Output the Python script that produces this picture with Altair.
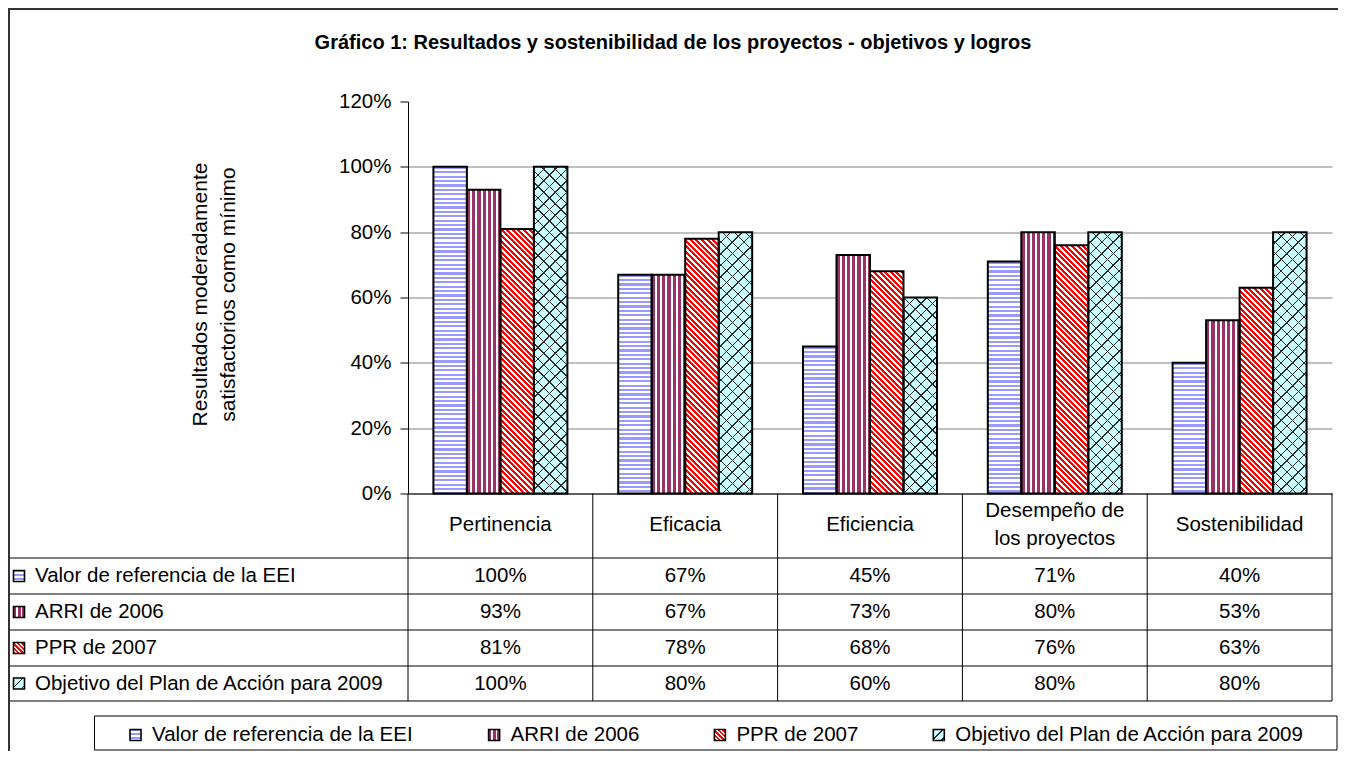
import altair as alt
import pandas as pd

# ---------------- data ----------------
categories = ["Pertinencia", "Eficacia", "Eficiencia", "Desempeño de los proyectos", "Sostenibilidad"]
series = ["Valor de referencia de la EEI", "ARRI de 2006", "PPR de 2007",
          "Objetivo del Plan de Acción para 2009"]
valor_eei = [1.00, 0.67, 0.45, 0.71, 0.40]
arri_2006 = [0.93, 0.67, 0.73, 0.80, 0.53]
ppr_2007 = [0.81, 0.78, 0.68, 0.76, 0.63]
objetivo_2009 = [1.00, 0.80, 0.60, 0.80, 0.80]
y_ticks = [0, 0.2, 0.4, 0.6, 0.8, 1.0, 1.2]
chart_title = "Gráfico 1: Resultados y sostenibilidad de los proyectos - objetivos y logros"
y_title = ["Resultados moderadamente", "satisfactorios como mínimo"]

values_by_series = [valor_eei, arri_2006, ppr_2007, objetivo_2009]
df = pd.DataFrame([{"cat": c, "series": s, "value": v}
                   for s, vals in zip(series, values_by_series)
                   for c, v in zip(categories, vals)])
dummy = pd.DataFrame({"k": [0]})

# ---------------- layout / style ----------------
FONT = "Liberation Sans"
FS = 20.5
W, H = 924, 392
X0, Y0 = 408, 101.5          # page position of plot origin
YMAX = 1.2
PAD_IN = 0.275
BAR_W = W / 5 * (1 - PAD_IN) / 4

BLUE, MAROON, RED, CYAN, DARK, WHITE = "#9999FF", "#993366", "#FF0000", "#CCFFFF", "#2b2b2b", "#FFFFFF"
CLEAR = "rgba(0,0,0,0)"


def px(x):
    return x - X0


def py(y):
    return y - Y0


def stripes(c1, c2, n, frac):
    stops = []
    k = 0
    while k < n:
        a = k / n
        b = min((k + frac) / n, 1.0)
        e = min((k + 1) / n, 1.0)
        stops += [(a, c1), (b, c1)]
        if b < 1.0:
            stops += [(b, c2), (e, c2)]
        k += 1
    return [alt.GradientStop(offset=round(o, 5), color=c) for o, c in stops]


def grad_h(c1, c2, n, frac):      # horizontal stripes
    return alt.LinearGradient(gradient="linear", x1=0, y1=0, x2=0, y2=1, stops=stripes(c1, c2, n, frac))


def grad_v(c1, c2, n, frac):      # vertical stripes
    return alt.LinearGradient(gradient="linear", x1=0, y1=0, x2=1, y2=0, stops=stripes(c1, c2, n, frac))


def grad_back(c1, c2, w, h, period, frac):   # "\" stripes
    a = (w + h) / (w * w + h * h)
    return alt.LinearGradient(gradient="linear", x1=0, y1=1, x2=a * w, y2=1 - a * h,
                              stops=stripes(c1, c2, (w + h) / period, frac))


def grad_fwd(c1, c2, w, h, period, frac):    # "/" stripes
    a = (w + h) / (w * w + h * h)
    return alt.LinearGradient(gradient="linear", x1=0, y1=0, x2=a * w, y2=a * h,
                              stops=stripes(c1, c2, (w + h) / period, frac))


TWO_LINE = "Desempeño de los proyectos"
x_axis = alt.Axis(title=None, labelAngle=0, labelFont=FONT, labelFontSize=FS, labelColor="black",
                  labelPadding={"condition": {"test": f"datum.value == '{TWO_LINE}'", "value": 17},
                                "value": 31},
                  labelBaseline="middle", labelLineHeight=28, ticks=False,
                  domainColor="black", domainWidth=1, grid=False, labelLimit=300,
                  labelExpr=f"datum.value == '{TWO_LINE}' ? ['Desempeño de', 'los proyectos'] : datum.value")
y_axis = alt.Axis(values=y_ticks, format=".0%", title=y_title, titleFont=FONT, titleFontSize=21,
                  titleFontWeight="normal", titleColor="black", titleX=-208, titleY=192.5,
                  titleLineHeight=28, titleBaseline="middle", titleAlign="center",
                  labelFont=FONT, labelFontSize=FS, labelColor="black", labelPadding=9,
                  tickSize=8, tickColor="black", domainColor="black", gridColor="#808080",
                  gridWidth=1, labelFlush=False,
                  gridOpacity={"condition": {"test": "datum.value > 1.1", "value": 0}, "value": 1})

x_enc = alt.X("cat:N", sort=categories,
              scale=alt.Scale(domain=categories, paddingInner=PAD_IN, paddingOuter=PAD_IN / 2),
              axis=x_axis)
xoff = alt.XOffset("series:N", sort=series,
                   scale=alt.Scale(domain=series, paddingInner=0, paddingOuter=0))
y_enc = alt.Y("value:Q", scale=alt.Scale(domain=[0, YMAX], nice=False), axis=y_axis)

layers = []


def rule(x1, x2, y1, y2, color="black", width=1.0):
    return alt.Chart(dummy).mark_rule(color=color, strokeWidth=width).encode(
        x=alt.value(x1), x2=alt.value(x2), y=alt.value(y1), y2=alt.value(y2))


# ---------------- bars ----------------
bar_base = alt.Chart(df)
for si, s in enumerate(series):
    for ci, c in enumerate(categories):
        v = values_by_series[si][ci]
        h = v / YMAX * H
        w = BAR_W
        sel = (alt.datum.series == s) & (alt.datum.cat == c)
        if si == 0:
            fills = [grad_h(BLUE, WHITE, h / 4.4, 0.5)]
        elif si == 1:
            fills = [grad_v(MAROON, WHITE, w / 5.2, 0.62)]
        elif si == 2:
            fills = [grad_back(RED, WHITE, w, h, 5.6, 0.55)]
        else:
            fills = [CYAN, grad_fwd(DARK, CLEAR, w, h, 11.5, 0.12),
                     grad_back(DARK, CLEAR, w, h, 11.5, 0.10)]
        for f in fills:
            layers.append(bar_base.transform_filter(sel).mark_bar(fill=f, strokeWidth=0).encode(
                x=x_enc, xOffset=xoff, y=y_enc))

layers.append(bar_base.mark_bar(fillOpacity=0, stroke="black", strokeWidth=2).encode(
    x=x_enc, xOffset=xoff, y=y_enc))

# ---------------- data table ----------------
row_lines = [558, 594, 630, 666, 701]
row_centers = [576, 612, 648, 683.5]
col_edges = [i * W / 5 for i in range(6)]
for yl in row_lines:
    layers.append(rule(px(8), W, py(yl), py(yl)))
for xe in col_edges:
    layers.append(rule(xe, xe, H, py(701)))
layers.append(rule(px(8.5), px(8.5), py(558), py(701)))

for i, s in enumerate(series):
    layers.append(alt.Chart(df).transform_filter(alt.datum.series == s).mark_text(
        font=FONT, fontSize=FS, color="black", align="center", baseline="middle").encode(
        x=x_enc, y=alt.value(py(row_centers[i])), text=alt.Text("value:Q", format=".0%")))


def swatch_fills(si, size):
    if si == 0:
        return [grad_h(BLUE, WHITE, 3, 0.5)]
    if si == 1:
        return [grad_v(MAROON, WHITE, 2.5, 0.6)]
    if si == 2:
        return [grad_back(RED, WHITE, size, size, 4.5, 0.55)]
    return [CYAN, grad_fwd(DARK, CLEAR, size, size, 9, 0.14)]


def swatch(si, xl, yc, size=11):
    out = []
    sdf = pd.DataFrame({"series": [series[si]]})
    for f in swatch_fills(si, size):
        out.append(alt.Chart(sdf).mark_rect(fill=f, strokeWidth=0).encode(
            x=alt.value(xl), x2=alt.value(xl + size), y=alt.value(yc - size / 2), y2=alt.value(yc + size / 2)))
    out.append(alt.Chart(sdf).mark_rect(fillOpacity=0, stroke="black", strokeWidth=1.6).encode(
        x=alt.value(xl), x2=alt.value(xl + size), y=alt.value(yc - size / 2), y2=alt.value(yc + size / 2)))
    return out


for i, s in enumerate(series):
    layers += swatch(i, px(13.5), py(row_centers[i]))
    layers.append(alt.Chart(pd.DataFrame({"series": [s]})).mark_text(
        font=FONT, fontSize=FS, color="black", align="left", baseline="middle").encode(
        x=alt.value(px(35)), y=alt.value(py(row_centers[i])), text="series:N"))

# ---------------- legend ----------------
LEG_TOP, LEG_BOTTOM, LEG_LEFT, LEG_RIGHT = 716, 750, 94.5, 1337
LEG_Y = 735
legend_x = [130, 488.6, 714.4, 933.3]
layers.append(alt.Chart(dummy).mark_rect(fill="white", stroke="black", strokeWidth=1).encode(
    x=alt.value(px(LEG_LEFT)), x2=alt.value(px(LEG_RIGHT)), y=alt.value(py(LEG_TOP)), y2=alt.value(py(LEG_BOTTOM))))
for i, s in enumerate(series):
    layers += swatch(i, px(legend_x[i]), py(LEG_Y))
    layers.append(alt.Chart(pd.DataFrame({"series": [s]})).mark_text(
        font=FONT, fontSize=FS, color="black", align="left", baseline="middle").encode(
        x=alt.value(px(legend_x[i] + 22)), y=alt.value(py(LEG_Y)), text="series:N"))

# ---------------- title & frame ----------------
layers.append(alt.Chart(dummy).mark_text(
    text=chart_title, font=FONT, fontSize=20, fontWeight="bold", color="black",
    align="center", baseline="middle").encode(x=alt.value(px(673)), y=alt.value(py(42.5))))
layers.append(rule(px(8), W + 6, py(9), py(9), color="#333333", width=2))
layers.append(rule(px(9), px(9), py(9), py(751), color="#333333", width=2))

chart = alt.layer(*layers).properties(
    width=W, height=H,
    padding={"left": 400, "top": 93.5, "right": 6, "bottom": 257},
    autosize=alt.AutoSizeParams(type="none"),
    background="white",
).configure_view(stroke=None)

chart.save("out.html", embed_options={"renderer": "svg", "actions": False})
